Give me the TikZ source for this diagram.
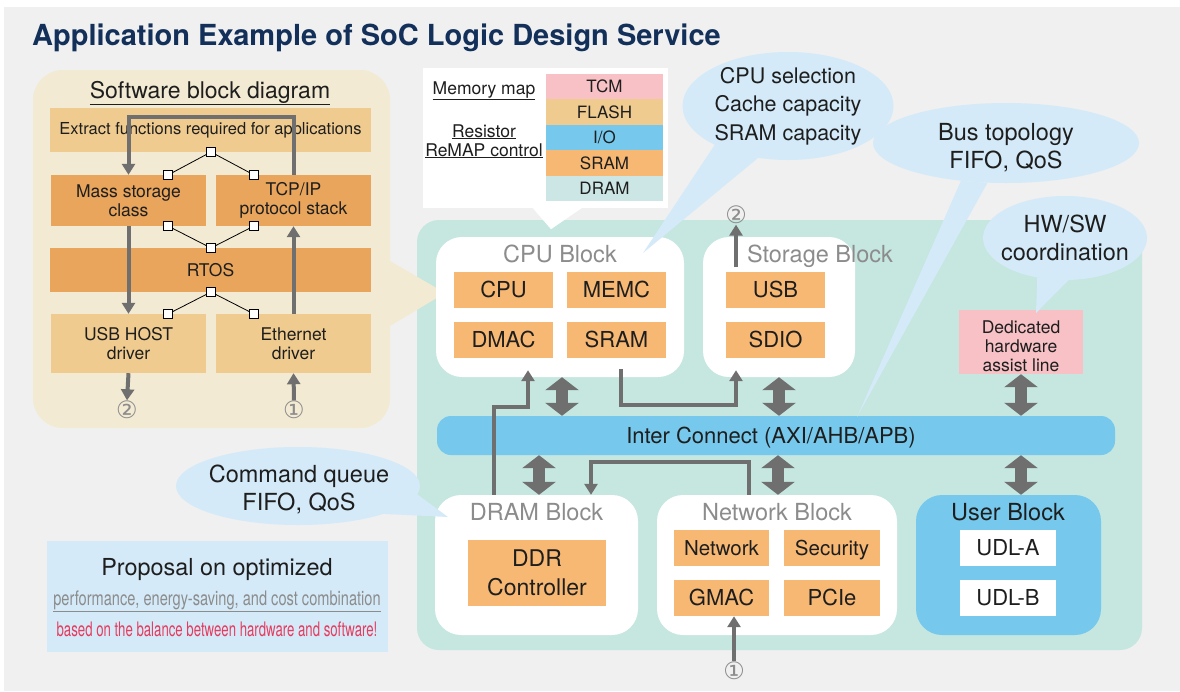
\documentclass[tikz,border=0pt]{standalone}
\usepackage{fontspec}
\setmainfont{TeX Gyre Heros}
\newfontfamily\circfont{DejaVu Sans}
\newfontfamily\narrowfont[FakeStretch=0.73]{TeX Gyre Heros}
\newfontfamily\narrowerfont[FakeStretch=0.66]{TeX Gyre Heros}
\usetikzlibrary{arrows.meta, shapes.geometric, calc}

\definecolor{bggray}{HTML}{EFF0EF}
\definecolor{navy}{HTML}{12305A}
\definecolor{cream}{HTML}{F2EAD2}
\definecolor{tanlt}{HTML}{F0CB8F}
\definecolor{tandk}{HTML}{E8A55B}
\definecolor{itemorange}{HTML}{F7B874}
\definecolor{socteal}{HTML}{C6E6E0}
\definecolor{busblue}{HTML}{76C9ED}
\definecolor{calloutblue}{HTML}{D4EAF8}
\definecolor{pinkbx}{HTML}{F7C1C5}
\definecolor{dramteal}{HTML}{CBE6E4}
\definecolor{arrgray}{HTML}{6F6F6F}
\definecolor{titlegray}{HTML}{8C8C8C}
\definecolor{txtdark}{HTML}{1E1E1E}
\definecolor{redtxt}{HTML}{E63B5E}

\newcommand{\fsz}[2]{\fontsize{#1}{#2}\selectfont}

\tikzset{
  swbox/.style={fill=#1, inner sep=0pt, align=center, minimum width=155pt,
    text=txtdark, font=\fsz{17.5}{19.5}},
  forksq/.style={draw=black, fill=white, line width=0.6pt, minimum size=9pt, inner sep=0pt},
  forkline/.style={black, line width=0.8pt},
  grayarrow/.style={arrgray, line width=4pt, -{Triangle[width=13pt,length=11pt]}},
  dblarrow/.style={arrgray, line width=12pt,
    {Triangle[width=33pt,length=13pt]}-{Triangle[width=33pt,length=13pt]}},
  circnum/.style={inner sep=0.5pt, text=titlegray, font=\circfont\fsz{24}{28}},
  block/.style={fill=white, rounded corners=26pt, minimum height=140pt, inner sep=0pt},
  blktitle/.style={anchor=base, inner sep=0pt, text=titlegray, font=\fsz{23.5}{27}},
  item/.style={fill=itemorange, minimum width=99pt, minimum height=36pt, inner sep=0pt,
    text=txtdark, font=\fsz{22}{26}, text height=15.8pt, text depth=0pt},
  callout/.style={ellipse, fill=calloutblue, inner sep=0pt},
  callouttxt/.style={align=center, inner sep=0pt, text=txtdark, font=\fsz{23.5}{28}},
}

\begin{document}
\begin{tikzpicture}[x=1pt, y=-1pt]
  % 背景
  \useasboundingbox (0,0) rectangle (1180,691);
  \fill[white] (0,0) rectangle (1180,691);
  \fill[bggray] (4,7) rectangle (1180,691);

  % 标题
  \node[anchor=base west, inner sep=0pt, text=navy, font=\fsz{29}{34}\bfseries] (title)
    at (32,45) {Application Example of SoC Logic Design Service};

  % SoC 区域
  \node[fill=socteal, rounded corners=22pt, minimum width=725pt, minimum height=430pt,
    inner sep=0pt] (soc) at (779.5,435) {};

  % 软件框图
  \node[fill=cream, rounded corners=30pt, minimum width=357pt, minimum height=358pt,
    inner sep=0pt] (swpanel) at (211.5,249) {};
  \fill[cream] ([xshift=-2pt,yshift=-11pt]swpanel.east) -- ([xshift=55pt,yshift=-44pt]swpanel.east)
    -- ([xshift=-2pt,yshift=-78pt]swpanel.east) -- cycle;
  \node[anchor=base, inner sep=0pt, text=txtdark, font=\fsz{23}{27}] (swtitle)
    at (210,98) {\underline{Software block diagram}};

  \node[swbox=tanlt, minimum width=321pt, minimum height=44pt, font=\fsz{16.5}{19}] (extract)
    at (210.5,130) {Extract functions required for applications};
  \node[swbox=tandk, minimum height=51pt] (mass) at (128.5,200.5) {Mass storage\\class};
  \node[swbox=tandk, minimum height=51pt] (tcp) at (293.5,200.5) {TCP/IP\\protocol stack};
  \node[swbox=tandk, minimum width=321pt, minimum height=44pt] (rtos) at (210.5,270) {RTOS};
  \node[swbox=tanlt, minimum height=59pt] (usbhost) at (128.5,343.5) {USB HOST\\driver};
  \node[swbox=tanlt, minimum height=59pt] (eth) at (293.5,343.5) {Ethernet\\driver};

  % 分叉连接
  \foreach \ya/\yb/\k in {152/175/a, 248/226/b, 292/314/c}{
    \coordinate (apex\k) at (211,\ya);
    \coordinate (left\k) at (168,\yb);
    \coordinate (right\k) at (254,\yb);
    \draw[forkline] (left\k) -- (apex\k) -- (right\k);
    \foreach \p in {apex,left,right}
      \node[forksq] (sq\p\k) at (\p\k) {};
  }

  \node[circnum] (c2a) at (127,410) {②};
  \node[circnum] (c1a) at (294,410) {①};
  \draw[grayarrow] (tcp.north) -- ++(0,-58) -| (mass.north);
  \draw[grayarrow] (mass.south) -- (usbhost.north);
  \draw[grayarrow] (usbhost.south) -- (c2a.north);
  \draw[grayarrow] (c1a.north) -- (eth.south);
  \draw[grayarrow] (eth.north) -- (tcp.south);

  % 存储器映射
  \node[fill=white, minimum width=245pt, minimum height=140pt, inner sep=0pt] (memmap)
    at (545.5,138) {};
  \fill[white] ([xshift=-13.5pt,yshift=1pt]memmap.south) -- ([xshift=5.5pt,yshift=-21pt]memmap.south)
    -- ([xshift=37.5pt,yshift=1pt]memmap.south) -- cycle;
  \node[anchor=base, inner sep=0pt, text=txtdark, font=\fsz{17.5}{19}] (mmlabel)
    at (484,94) {\underline{Memory map}};
  \node[anchor=base, inner sep=0pt, text=txtdark, font=\fsz{17.5}{19}] (remap1)
    at (484,137) {\underline{Resistor}};
  \node[anchor=base, inner sep=0pt, text=txtdark, font=\fsz{17.5}{19}] (remap2)
    at (484,156) {\underline{ReMAP control}};
  \foreach \lbl/\clr [count=\i] in {TCM/pinkbx, FLASH/tanlt, I\slash O/busblue, SRAM/itemorange, DRAM/dramteal}
    \node[fill=\clr, minimum width=117pt, minimum height=25.6pt, inner sep=0pt, text=txtdark,
      font=\fsz{17}{19}, text height=12.2pt, text depth=0pt] (mem\i) at (604.5,{61.3+25.4*\i}) {\lbl};

  % CPU Block
  \node[block, minimum width=248pt] (cpublk) at (560,307) {};
  \node[blktitle] (cputitle) at (560,262) {CPU Block};
  \node[item] (cpu) at (503.5,290) {CPU};
  \node[item] (memc) at (616.5,290) {MEMC};
  \node[item] (dmac) at (503.5,340) {DMAC};
  \node[item] (sram) at (616.5,340) {SRAM};

  % Storage Block
  \node[block, minimum width=152pt] (storblk) at (779,307) {};
  \node[blktitle] (stortitle) at (820,262) {Storage Block};
  \node[item] (usb) at (775.5,290) {USB};
  \node[item] (sdio) at (775.5,340) {SDIO};
  \coordinate (storout) at (736,267);
  \node[circnum] (c2b) at (736,215) {②};
  \draw[grayarrow] (storout) -- (c2b.south);

  % 专用硬件
  \node[fill=pinkbx, minimum width=124pt, minimum height=64pt, inner sep=0pt] (hwbox)
    at (1021,342) {};
  \node[align=center, inner sep=0pt, text=txtdark, font=\fsz{17.5}{19}] (hwtxt)
    at (1021,346) {Dedicated\\hardware\\assist line};

  % 总线
  \node[fill=busblue, rounded corners=14pt, minimum width=678pt, minimum height=39pt,
    inner sep=0pt] (bus) at (776,435.5) {};
  \node[anchor=base, inner sep=0pt, text=txtdark, font=\fsz{22}{26}] (bustext)
    at (771,443) {Inter Connect (AXI/AHB/APB)};

  % DRAM Block
  \node[block, minimum width=203pt] (drmblk) at (536.5,565) {};
  \node[blktitle] (drmtitle) at (536.5,520) {DRAM Block};
  \node[fill=itemorange, minimum width=138pt, minimum height=66pt, inner sep=0pt, align=center,
    text=txtdark, font=\fsz{23}{29}] (ddr) at (537,573) {DDR\\Controller};

  % Network Block
  \node[block, minimum width=240pt] (netblk) at (777,565) {};
  \node[blktitle] (nettitle) at (777,520) {Network Block};
  \node[item, minimum width=95pt, font=\fsz{20.5}{24}] (network) at (721.5,548) {Network};
  \node[item, minimum width=96pt, font=\fsz{20.5}{24}] (security) at (832,548) {Security};
  \node[item, minimum width=95pt] (gmac) at (721.5,598) {GMAC};
  \node[item, minimum width=96pt] (pcie) at (832,598) {PCIe};
  \node[circnum] (c1b) at (734,671) {①};
  \draw[grayarrow] (c1b.north) -- (c1b.north |- gmac.south);

  % User Block
  \node[block, fill=busblue, minimum width=185pt] (usrblk) at (1008.5,565) {};
  \node[blktitle, text=txtdark] (usrtitle) at (1008,520) {User Block};
  \node[item, fill=white, minimum width=96pt] (udla) at (1008,548) {UDL-A};
  \node[item, fill=white, minimum width=96pt] (udlb) at (1008,598) {UDL-B};

  % 双向箭头
  \draw[dblarrow] ([xshift=2pt]cpublk.south) -- ([xshift=2pt]cpublk.south |- bus.north);
  \draw[dblarrow] (storblk.south) -- (storblk.south |- bus.north);
  \draw[dblarrow] (hwbox.south) -- (hwbox.south |- bus.north);
  \draw[dblarrow] ([xshift=2.5pt]drmblk.north |- bus.south) -- ([xshift=2.5pt]drmblk.north);
  \draw[dblarrow] ([xshift=1pt]netblk.north |- bus.south) -- ([xshift=1pt]netblk.north);
  \draw[dblarrow] (hwbox.south |- bus.south) -- (hwbox.south |- usrblk.north);

  % 数据通路
  \draw[grayarrow] ([xshift=-42.5pt]drmblk.north) -- ++(0,-88) -| ([xshift=-32pt,yshift=7pt]cpublk.south);
  \draw[grayarrow] ([xshift=61pt,yshift=8pt]cpublk.south) -- ++(0,36) -| ([xshift=-43pt,yshift=7pt]storblk.south);
  \draw[grayarrow] ([xshift=-28pt]netblk.north) -- ++(0,-33) -| ([xshift=54.5pt]drmblk.north);

  % 气泡说明
  \node[callout, minimum width=211pt, minimum height=108pt] (cpuell) at (788,106) {};
  \coordinate (cputip) at (643,253);
  \fill[calloutblue] (cpuell.208) -- (cputip) -- (cpuell.240) -- cycle;
  \node[callouttxt, font=\fsz{21.5}{28.5}] (cputxt) at (788,106) {CPU selection\\Cache capacity\\SRAM capacity};

  \node[callout, minimum width=266pt, minimum height=80pt] (busell) at (1006,143) {};
  \coordinate (bustip) at (857,417);
  \fill[calloutblue] (busell.220) -- (bustip) -- (busell.245) -- cycle;
  \node[callouttxt] (bustxt) at (1006,148) {Bus topology\\FIFO, QoS};

  \node[callout, minimum width=164pt, minimum height=84pt] (hwell) at (1065,238) {};
  \coordinate (hwtip) at (1036,313);
  \fill[calloutblue] (hwell.235) -- (hwtip) -- (hwell.275) -- cycle;
  \node[callouttxt] (hwsw) at (1065,238) {HW/SW\\coordination};

  \node[callout, minimum width=244pt, minimum height=78pt] (cmdell) at (298,486) {};
  \coordinate (cmdtip) at (448,517);
  \fill[calloutblue] (cmdell.-4) -- (cmdtip) -- (cmdell.-18) -- cycle;
  \node[callouttxt] (cmdtxt) at (299,489.5) {Command queue\\FIFO, QoS};

  % 提案
  \node[fill=calloutblue, minimum width=341pt, minimum height=111pt, inner sep=0pt] (proposal)
    at (217.5,596.5) {};
  \node[anchor=base, inner sep=0pt, text=txtdark, font=\fsz{23.4}{27}] (prop1)
    at (217,575) {Proposal on optimized};
  \node[anchor=base, inner sep=0pt, text=titlegray, font=\narrowfont\fsz{20}{24}] (prop2)
    at (217,605) {\underline{performance, energy-saving, and cost combination}};
  \node[anchor=base, inner sep=0pt, text=redtxt, font=\narrowerfont\fsz{20}{24}] (prop3)
    at (217,636) {based on the balance between hardware and software!};
\end{tikzpicture}
\end{document}
